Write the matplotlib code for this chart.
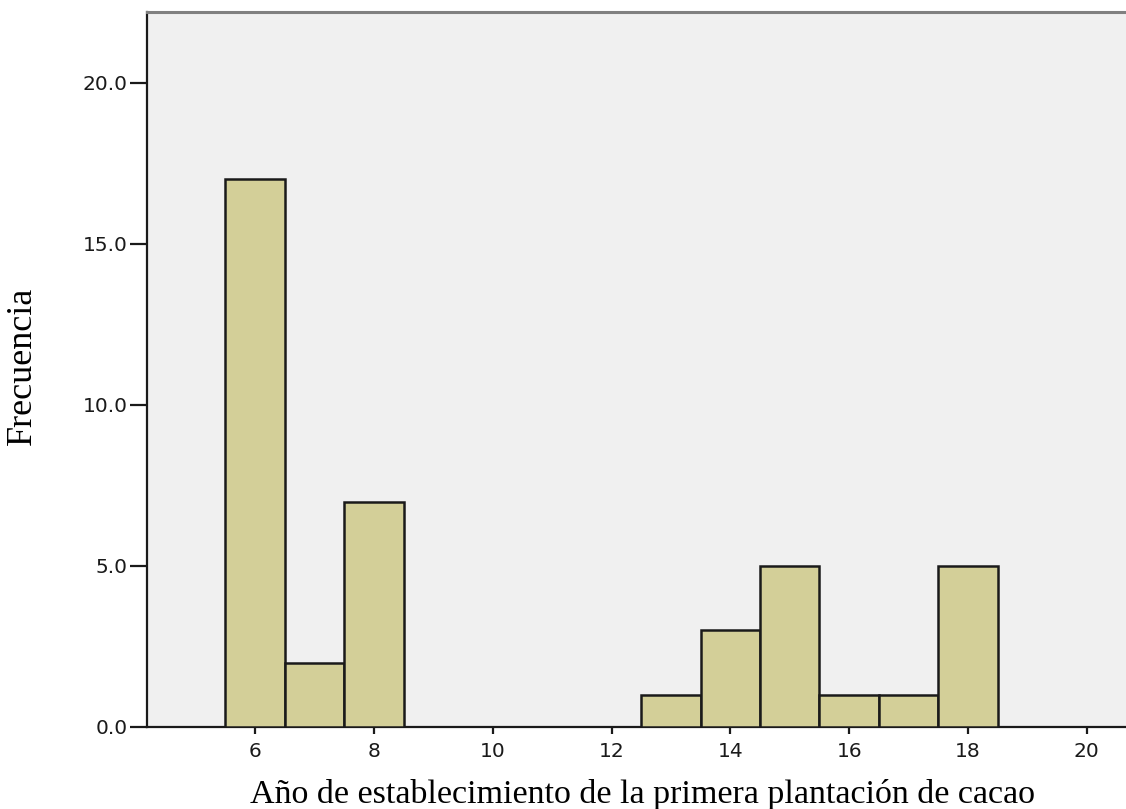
import numpy as np
import matplotlib.pyplot as plt

# frequency of each establishment year
years = [6, 7, 8, 13, 14, 15, 16, 17, 18]
counts = [17, 2, 7, 1, 3, 5, 1, 1, 5]
xticks = [6, 8, 10, 12, 14, 16, 18, 20]
yticks = [0, 5, 10, 15, 20]

fig = plt.figure(figsize=(11.26, 8.09), dpi=100)
ax = fig.add_axes([0.1306, 0.1014, 0.8694, 0.8838])
ax.set_facecolor('#f0f0f0')

ax.bar(years, counts, width=1.0, color='#d3cf98', edgecolor='#1a1a1a',
       linewidth=1.8, zorder=3)

ax.set_xlim(4.18, 20.66)
ax.set_ylim(0, 22.2)
ax.set_xticks(xticks)
ax.set_xticklabels([str(t) for t in xticks], family='DejaVu Sans', fontsize=14.5)
ax.set_yticks(yticks)
ax.set_yticklabels(['%.1f' % t for t in yticks], family='DejaVu Sans', fontsize=14.5)
ax.tick_params(axis='both', direction='out', width=1.6, colors='#1a1a1a')
ax.tick_params(axis='x', length=5, pad=6)
ax.tick_params(axis='y', length=12, pad=2)

for s in ['left', 'bottom']:
    ax.spines[s].set_color('#1a1a1a')
    ax.spines[s].set_linewidth(1.6)
ax.spines['top'].set_color('#808080')
ax.spines['top'].set_linewidth(2.2)
ax.spines['right'].set_visible(False)

ax.set_xlabel('Año de establecimiento de la primera plantación de cacao',
              family='Liberation Serif', fontsize=24.5)
ax.xaxis.label.set_verticalalignment('baseline')
ax.xaxis.set_label_coords(0.506, -0.1063)
ax.set_ylabel('Frecuencia', family='Liberation Serif', fontsize=26)
ax.yaxis.label.set_verticalalignment('center')
ax.yaxis.set_label_coords(-0.1277, 0.505)

fig.savefig('out.png', dpi=100)
